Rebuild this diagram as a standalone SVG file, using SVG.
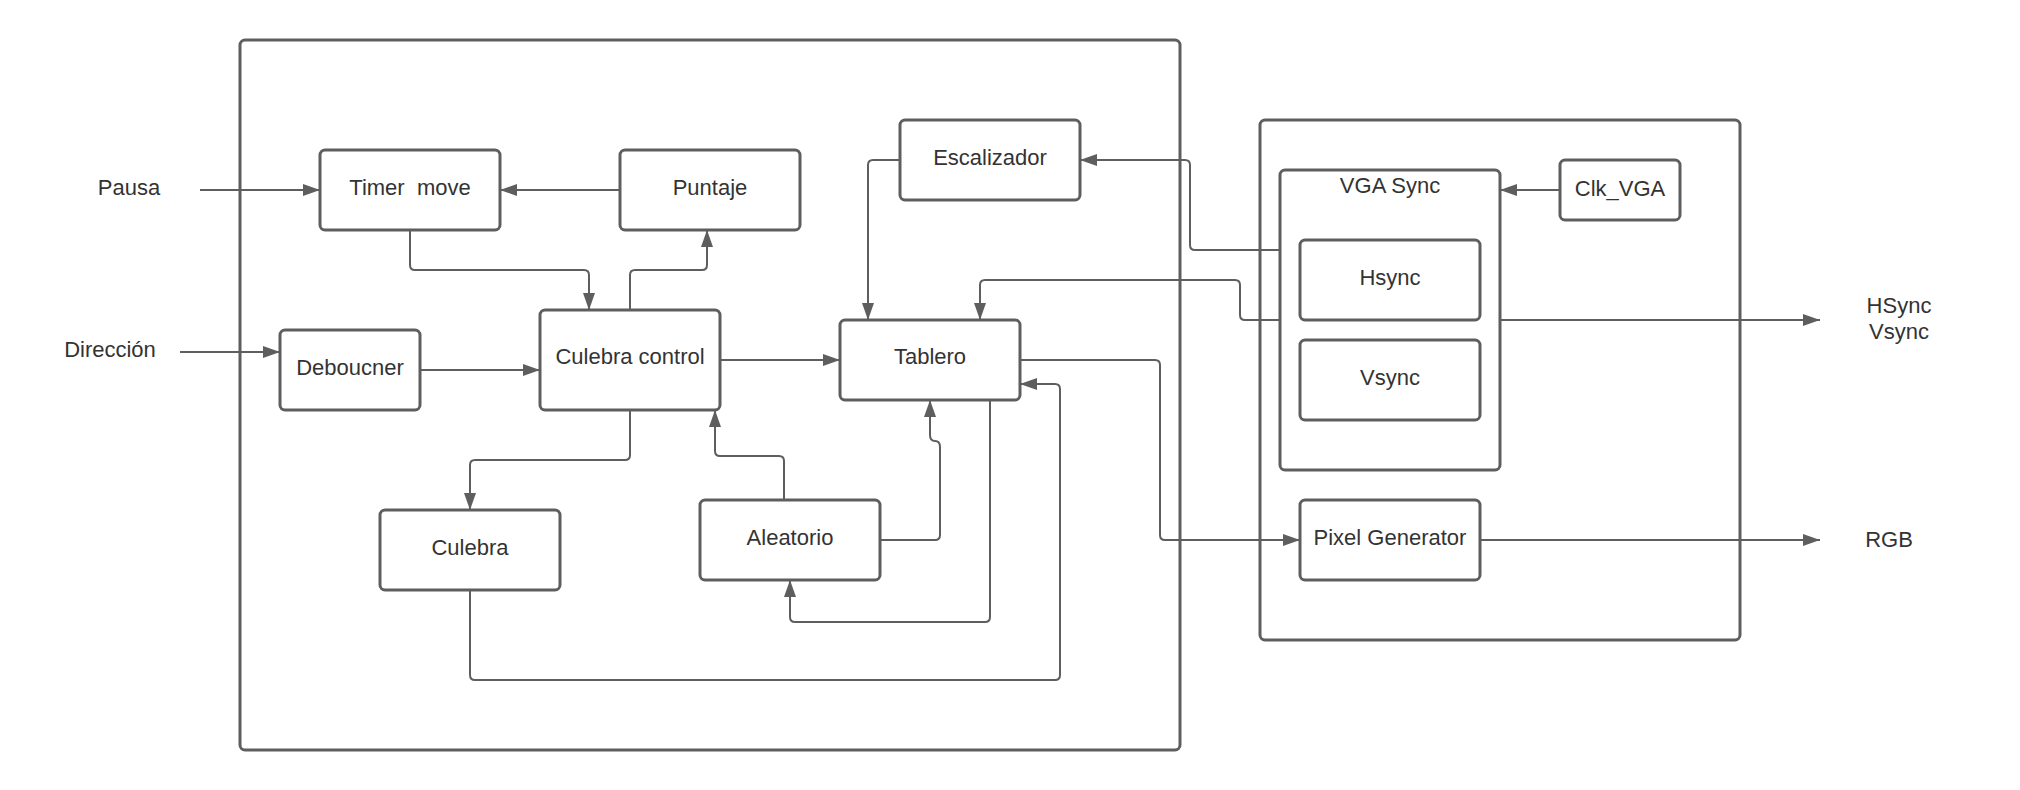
<svg xmlns="http://www.w3.org/2000/svg" width="2020" height="790" viewBox="0 0 2020 790">
<style>
.box{fill:#ffffff;stroke:#5e5e5e;stroke-width:3}
.frame{fill:none;stroke:#5e5e5e;stroke-width:3}
.t{font-family:"Liberation Sans",Arial,sans-serif;font-size:22px;fill:#333333;text-anchor:middle;white-space:pre}
.c{fill:none;stroke:#5e5e5e;stroke-width:2;marker-end:url(#ah)}
.cn{fill:none;stroke:#5e5e5e;stroke-width:2}
</style>
<defs>
<marker id="ah" markerUnits="userSpaceOnUse" markerWidth="18" markerHeight="12" refX="17" refY="6" orient="auto">
<path d="M0,0 L17,6 L0,12 Z" fill="#5e5e5e"/>
</marker>
</defs>
<rect width="2020" height="790" fill="#ffffff"/>
<g id="frame-game"><rect class="frame" x="240" y="40" width="940" height="710" rx="5"/></g>
<g id="frame-vga"><rect class="frame" x="1260" y="120" width="480" height="520" rx="5"/></g>
<g id="connectors">
<path class="c" d="M200,190 H320"/>
<path class="c" d="M620,190 H500"/>
<path class="c" d="M180,352 H280"/>
<path class="c" d="M420,370 H540"/>
<path class="c" d="M720,360 H840"/>
<path class="c" d="M410,230 V265 Q410,270 415,270 H584 Q589,270 589,275 V310"/>
<path class="c" d="M630,310 V275 Q630,270 635,270 H702 Q707,270 707,265 V230"/>
<path class="c" d="M900,160 H873 Q868,160 868,165 V320"/>
<path class="c" d="M630,410 V455 Q630,460 625,460 H475 Q470,460 470,465 V510"/>
<path class="c" d="M784,500 V461 Q784,456 779,456 H720 Q715,456 715,451 V410"/>
<path class="c" d="M880,540 H935 Q940,540 940,535 V447 Q940,441 935,441 Q930,441 930,435 V400"/>
<path class="c" d="M990,400 V617 Q990,622 985,622 H795 Q790,622 790,617 V580"/>
<path class="c" d="M470,590 V675 Q470,680 475,680 H1055 Q1060,680 1060,675 V389 Q1060,384 1055,384 H1020"/>
<path class="c" d="M1020,360 H1155 Q1160,360 1160,365 V535 Q1160,540 1165,540 H1300"/>
<path class="c" d="M1280,250 H1195 Q1190,250 1190,245 V165 Q1190,160 1185,160 H1080"/>
<path class="c" d="M1280,320 H1245 Q1240,320 1240,315 V285 Q1240,280 1235,280 H985 Q980,280 980,285 V320"/>
<path class="c" d="M1560,190 H1500"/>
<path class="c" d="M1500,320 H1820"/>
<path class="c" d="M1480,540 H1820"/>
</g>
<g id="timer-move"><rect class="box" x="320" y="150" width="180" height="80" rx="5"/><text class="t" x="410" y="195">Timer  move</text></g>
<g id="puntaje"><rect class="box" x="620" y="150" width="180" height="80" rx="5"/><text class="t" x="710" y="195">Puntaje</text></g>
<g id="escalizador"><rect class="box" x="900" y="120" width="180" height="80" rx="5"/><text class="t" x="990" y="165">Escalizador</text></g>
<g id="debouncer"><rect class="box" x="280" y="330" width="140" height="80" rx="5"/><text class="t" x="350" y="375">Deboucner</text></g>
<g id="culebra-control"><rect class="box" x="540" y="310" width="180" height="100" rx="5"/><text class="t" x="630" y="364">Culebra control</text></g>
<g id="tablero"><rect class="box" x="840" y="320" width="180" height="80" rx="5"/><text class="t" x="930" y="364">Tablero</text></g>
<g id="culebra"><rect class="box" x="380" y="510" width="180" height="80" rx="5"/><text class="t" x="470" y="555">Culebra</text></g>
<g id="aleatorio"><rect class="box" x="700" y="500" width="180" height="80" rx="5"/><text class="t" x="790" y="545">Aleatorio</text></g>
<g id="vga-sync"><rect class="box" x="1280" y="170" width="220" height="300" rx="5"/><text class="t" x="1390" y="193">VGA Sync</text></g>
<g id="hsync"><rect class="box" x="1300" y="240" width="180" height="80" rx="5"/><text class="t" x="1390" y="285">Hsync</text></g>
<g id="vsync"><rect class="box" x="1300" y="340" width="180" height="80" rx="5"/><text class="t" x="1390" y="385">Vsync</text></g>
<g id="clk-vga"><rect class="box" x="1560" y="160" width="120" height="60" rx="5"/><text class="t" x="1620" y="196">Clk_VGA</text></g>
<g id="pixel-generator"><rect class="box" x="1300" y="500" width="180" height="80" rx="5"/><text class="t" x="1390" y="545">Pixel Generator</text></g>
<g id="labels">
<text class="t" x="129" y="195">Pausa</text>
<text class="t" x="110" y="357">Dirección</text>
<text class="t" x="1899" y="313">HSync</text>
<text class="t" x="1899" y="339">Vsync</text>
<text class="t" x="1889" y="547">RGB</text>
</g>
</svg>
